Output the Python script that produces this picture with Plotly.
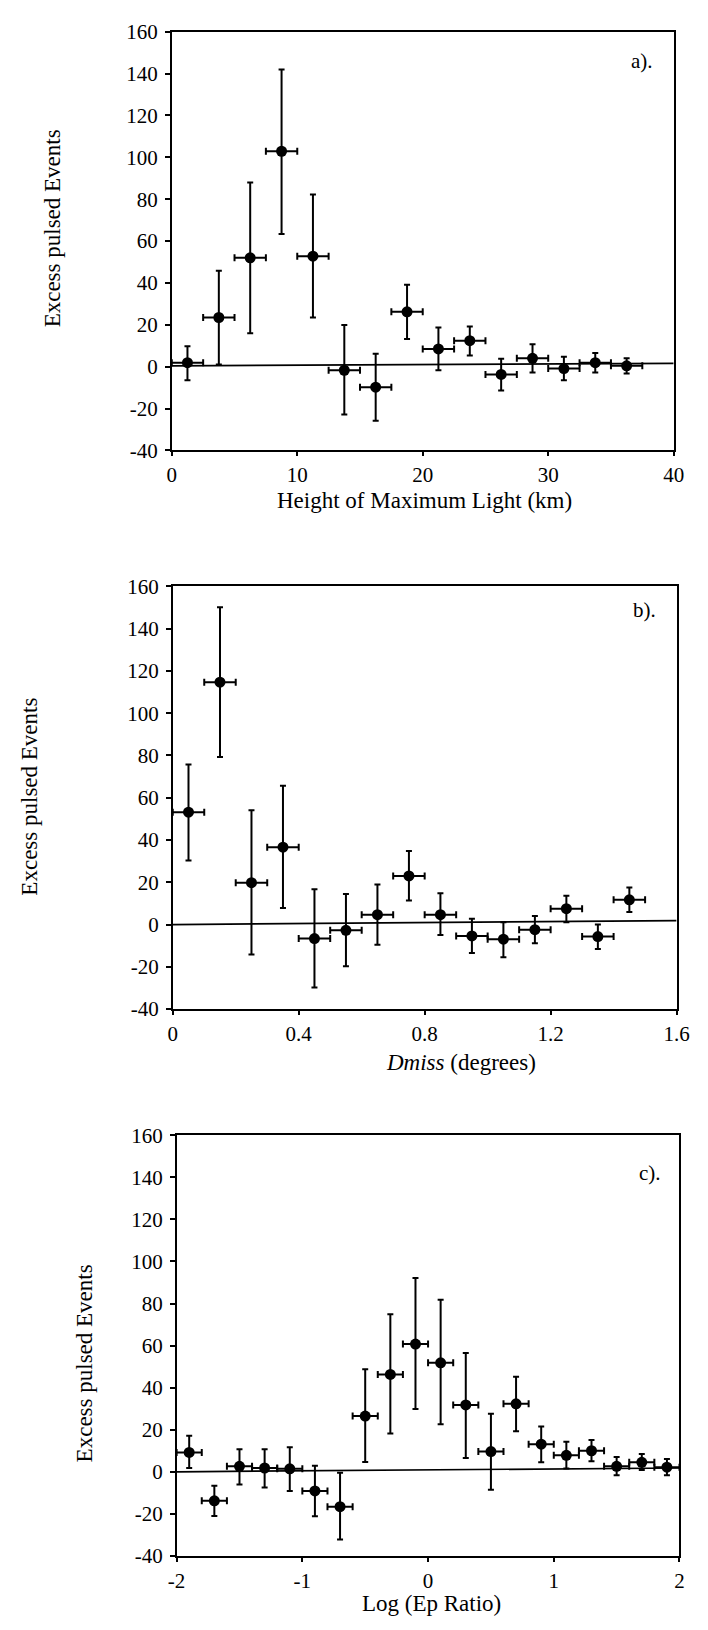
import plotly.graph_objects as go

# ---------------- data ----------------
# panel a: Height of maximum light (km)
a_x = [1.25, 3.75, 6.25, 8.75, 11.25, 13.75, 16.25, 18.75, 21.25, 23.75, 26.25, 28.75, 31.25, 33.75, 36.25]
a_xerr = [1.25] * 15
a_y = [1.9, 23.5, 52.0, 102.9, 52.8, -1.7, -9.8, 26.2, 8.5, 12.4, -3.7, 4.0, -0.9, 1.9, 0.4]
a_hi = [9.8, 45.8, 88.0, 142.0, 82.2, 19.9, 6.2, 39.2, 18.7, 19.2, 3.8, 10.7, 4.7, 6.6, 4.0]
a_lo = [-6.5, 1.0, 16.0, 63.4, 23.5, -22.8, -25.8, 13.2, -1.7, 5.4, -11.4, -2.8, -6.5, -2.8, -3.2]
a_line_x = [0, 40]
a_line_y = [0.4, 1.6]

# panel b: Dmiss (degrees)
b_x = [0.05, 0.15, 0.25, 0.35, 0.45, 0.55, 0.65, 0.75, 0.85, 0.95, 1.05, 1.15, 1.25, 1.35, 1.45]
b_xerr = [0.05] * 15
b_y = [53.2, 114.7, 19.8, 36.6, -6.6, -2.7, 4.7, 23.0, 4.7, -5.4, -6.9, -2.4, 7.5, -5.7, 11.7]
b_hi = [75.7, 150.2, 54.1, 65.7, 16.7, 14.5, 19.0, 34.8, 14.8, 2.7, 1.1, 4.0, 13.6, 0.0, 17.5]
b_lo = [30.3, 79.3, -14.2, 7.8, -29.8, -19.7, -9.6, 11.4, -4.9, -13.4, -15.5, -8.8, 1.1, -11.6, 5.9]
b_line_x = [0, 1.6]
b_line_y = [0.0, 1.9]

# panel c: Log (Ep Ratio)
c_x = [-1.9, -1.7, -1.5, -1.3, -1.1, -0.9, -0.7, -0.5, -0.3, -0.1, 0.1, 0.3, 0.5, 0.7, 0.9, 1.1, 1.3, 1.5, 1.7, 1.9]
c_xerr = [0.1] * 20
c_y = [9.2, -13.8, 2.6, 1.8, 1.4, -9.1, -16.6, 26.5, 46.3, 60.7, 51.8, 31.8, 9.6, 32.3, 13.1, 7.8, 10.0, 2.6, 4.5, 2.2]
c_hi = [17.1, -6.7, 10.7, 10.7, 11.7, 2.9, -0.5, 48.7, 74.9, 92.1, 81.8, 56.5, 27.6, 45.2, 21.5, 14.3, 15.1, 7.0, 8.4, 6.1]
c_lo = [1.8, -21.0, -6.0, -7.5, -9.1, -21.1, -32.2, 4.6, 18.2, 29.9, 22.6, 6.5, -8.6, 19.3, 4.5, 1.5, 5.0, -1.7, 0.8, -1.7]
c_line_x = [-2, 2]
c_line_y = [0.0, 1.8]

y_tickvals = [-40, -20, 0, 20, 40, 60, 80, 100, 120, 140, 160]
y_ticktext = ["-40", "-20", "0", "20", "40", "60", "80", "100", "120", "140", "160"]
a_tickvals = [0, 10, 20, 30, 40]
a_ticktext = ["0", "10", "20", "30", "40"]
b_tickvals = [0, 0.4, 0.8, 1.2, 1.6]
b_ticktext = ["0", "0.4", "0.8", "1.2", "1.6"]
c_tickvals = [-2, -1, 0, 1, 2]
c_ticktext = ["-2", "-1", "0", "1", "2"]

panel_labels = ["a).", "b).", "c)."]
x_titles = ["Height of Maximum Light (km)", "<i>Dmiss</i> (degrees)", "Log (Ep Ratio)"]
y_title = "Excess pulsed Events"

# ---------------- figure ----------------
W, H = 708, 1630
FONT = "Liberation Serif, Times New Roman, serif"
TICK_SIZE = 21
TITLE_SIZE = 23


def px_x(p):
    return p / W


def px_y(p):
    return 1 - p / H


panels = [
    dict(x=a_x, xe=a_xerr, y=a_y, hi=a_hi, lo=a_lo, lx=a_line_x, ly=a_line_y,
         rng=[0, 40], tv=a_tickvals, tt=a_ticktext, box=(168, 686, 20, 445)),
    dict(x=b_x, xe=b_xerr, y=b_y, hi=b_hi, lo=b_lo, lx=b_line_x, ly=b_line_y,
         rng=[0, 1.6], tv=b_tickvals, tt=b_ticktext, box=(169, 689, 583, 1012)),
    dict(x=c_x, xe=c_xerr, y=c_y, hi=c_hi, lo=c_lo, lx=c_line_x, ly=c_line_y,
         rng=[-2, 2], tv=c_tickvals, tt=c_ticktext, box=(173, 692, 1140, 1567)),
]

fig = go.Figure()
layout = dict(
    width=W, height=H, margin=dict(l=0, r=0, t=0, b=0),
    paper_bgcolor="white", plot_bgcolor="white", showlegend=False,
    font=dict(family=FONT, color="black", size=TICK_SIZE),
)

for i, p in enumerate(panels):
    n = i + 1
    xa = "x" if n == 1 else f"x{n}"
    ya = "y" if n == 1 else f"y{n}"
    l, r, t, b = p["box"]
    # reference line
    fig.add_trace(go.Scatter(x=p["lx"], y=p["ly"], mode="lines",
                             line=dict(color="black", width=1.7),
                             xaxis=xa, yaxis=ya, hoverinfo="skip"))
    plus = [h - v for h, v in zip(p["hi"], p["y"])]
    minus = [v - lo for v, lo in zip(p["y"], p["lo"])]
    fig.add_trace(go.Scatter(
        x=p["x"], y=p["y"], mode="markers",
        marker=dict(color="black", size=11),
        error_y=dict(type="data", array=plus, arrayminus=minus, symmetric=False,
                     color="black", thickness=2, width=3),
        error_x=dict(type="data", array=p["xe"], color="black", thickness=2, width=3.5),
        xaxis=xa, yaxis=ya))

    xdom = [px_x(l), px_x(r)]
    ydom = [px_y(b), px_y(t)]
    common = dict(showgrid=False, zeroline=False, linecolor="black", linewidth=1.5,
                  tickcolor="black", tickwidth=1.5, tickmode="array")
    layout[f"xaxis{'' if n == 1 else n}"] = dict(
        common, domain=xdom, anchor=ya, range=p["rng"], showline=True, mirror=True,
        ticks="outside", ticklen=4, tickvals=p["tv"], ticktext=p["tt"],
        tickfont=dict(size=TICK_SIZE, family=FONT, color="black"), ticklabelstandoff=1)
    layout[f"yaxis{'' if n == 1 else n}"] = dict(
        common, domain=ydom, anchor=xa, range=[-40, 160], showline=True, mirror=True,
        ticks="outside", ticklen=5, tickvals=y_tickvals, ticktext=y_ticktext,
        tickfont=dict(size=TICK_SIZE, family=FONT, color="black"), ticklabelstandoff=3)
    # inward ticks on top and right
    m = n + 3
    layout[f"xaxis{m}"] = dict(
        common, domain=xdom, overlaying=xa, anchor=ya, side="top", range=p["rng"],
        showline=False, ticks="inside", ticklen=7, tickvals=p["tv"][1:-1],
        showticklabels=False)
    layout[f"yaxis{m}"] = dict(
        common, domain=ydom, overlaying=ya, anchor=xa, side="right", range=[-40, 160],
        showline=False, ticks="inside", ticklen=6, tickvals=y_tickvals[1:-1],
        showticklabels=False)

annotations = []
label_pos = [(667, 50), (670, 607), (675, 1178)]
xtitle_pos = [(429, 496), (467, 1066), (436, 1615)]
ytitle_pos = [(45, 220), (21, 796), (78, 1372)]
for i in range(3):
    annotations.append(dict(text=panel_labels[i], xref="paper", yref="paper",
                            x=px_x(label_pos[i][0]), y=px_y(label_pos[i][1]),
                            xanchor="right", yanchor="middle", showarrow=False,
                            font=dict(size=21, family=FONT, color="black")))
    annotations.append(dict(text=x_titles[i], xref="paper", yref="paper",
                            x=px_x(xtitle_pos[i][0]), y=px_y(xtitle_pos[i][1]),
                            xanchor="center", yanchor="middle", showarrow=False,
                            font=dict(size=TITLE_SIZE, family=FONT, color="black")))
    annotations.append(dict(text=y_title, xref="paper", yref="paper",
                            x=px_x(ytitle_pos[i][0]), y=px_y(ytitle_pos[i][1]),
                            xanchor="center", yanchor="middle", showarrow=False,
                            textangle=-90,
                            font=dict(size=TITLE_SIZE, family=FONT, color="black")))
layout["annotations"] = annotations

fig.update_layout(**layout)
fig.write_html("out.html", config={"displayModeBar": False},
               post_script="document.body.style.margin='0px';document.body.style.overflow='hidden';")
